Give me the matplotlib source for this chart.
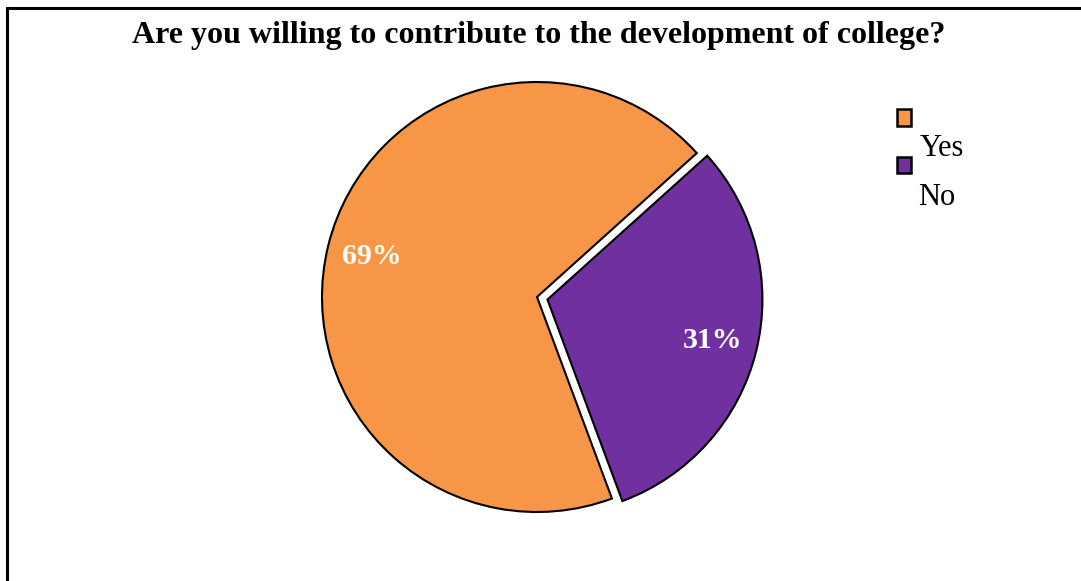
import matplotlib
matplotlib.use("Agg")
import matplotlib.pyplot as plt
from matplotlib.patches import Rectangle, Patch

labels = ["Yes", "No"]
values = [69, 31]
colors = ["#F79646", "#7030A0"]
title = "Are you willing to contribute to the development of college?"

plt.rcParams["font.family"] = ["Liberation Serif", "DejaVu Serif"]

W, H = 1081, 581
fig = plt.figure(figsize=(W / 100, H / 100), dpi=100)

# pie axes: centre at (537, 297) px, radius 215 px
R = 215
lim = 1.3
cx, cy = 537, 297
side = 2 * lim * R
ax = fig.add_axes([(cx - side / 2) / W, (H - cy - side / 2) / H, side / W, side / H])
wedges, texts, autotexts = ax.pie(
    values, colors=colors, startangle=42.0, explode=[0, 0.05],
    autopct="%1.0f%%", pctdistance=0.79,
    wedgeprops=dict(edgecolor="black", linewidth=1.5),
    textprops=dict(color="white", fontsize=21.5, fontweight="bold"),
)
ax.set_xlim(-lim, lim)
ax.set_ylim(-lim, lim)
ax.set_aspect("equal")
ax.axis("off")

fig.text(539 / W, 1 - 35 / H, title, ha="center", va="center",
         fontsize=23, fontweight="bold")

# legend squares, text placed beside them
handles = [Patch(facecolor=c, edgecolor="black", linewidth=1.8) for c in colors]
fig.legend(handles, [" ", " "], loc="upper left",
           bbox_to_anchor=(897 / W, 1 - 106 / H), frameon=False,
           fontsize=22, handlelength=0.47, handleheight=0.47,
           labelspacing=0.62, borderpad=0, borderaxespad=0, handletextpad=0.3)
fig.text(920 / W, 1 - 148 / H, labels[0], ha="left", va="center", fontsize=22)
fig.text(918 / W, 1 - 197 / H, labels[1], ha="left", va="center", fontsize=22)

# outer frame (runs off the right and bottom edges)
fig.add_artist(Rectangle((7 / W, -0.1), 1.2, 1.1 - 8 / H, transform=fig.transFigure,
                         fill=False, edgecolor="black", linewidth=2.2))

fig.savefig("out.png", dpi=100)
